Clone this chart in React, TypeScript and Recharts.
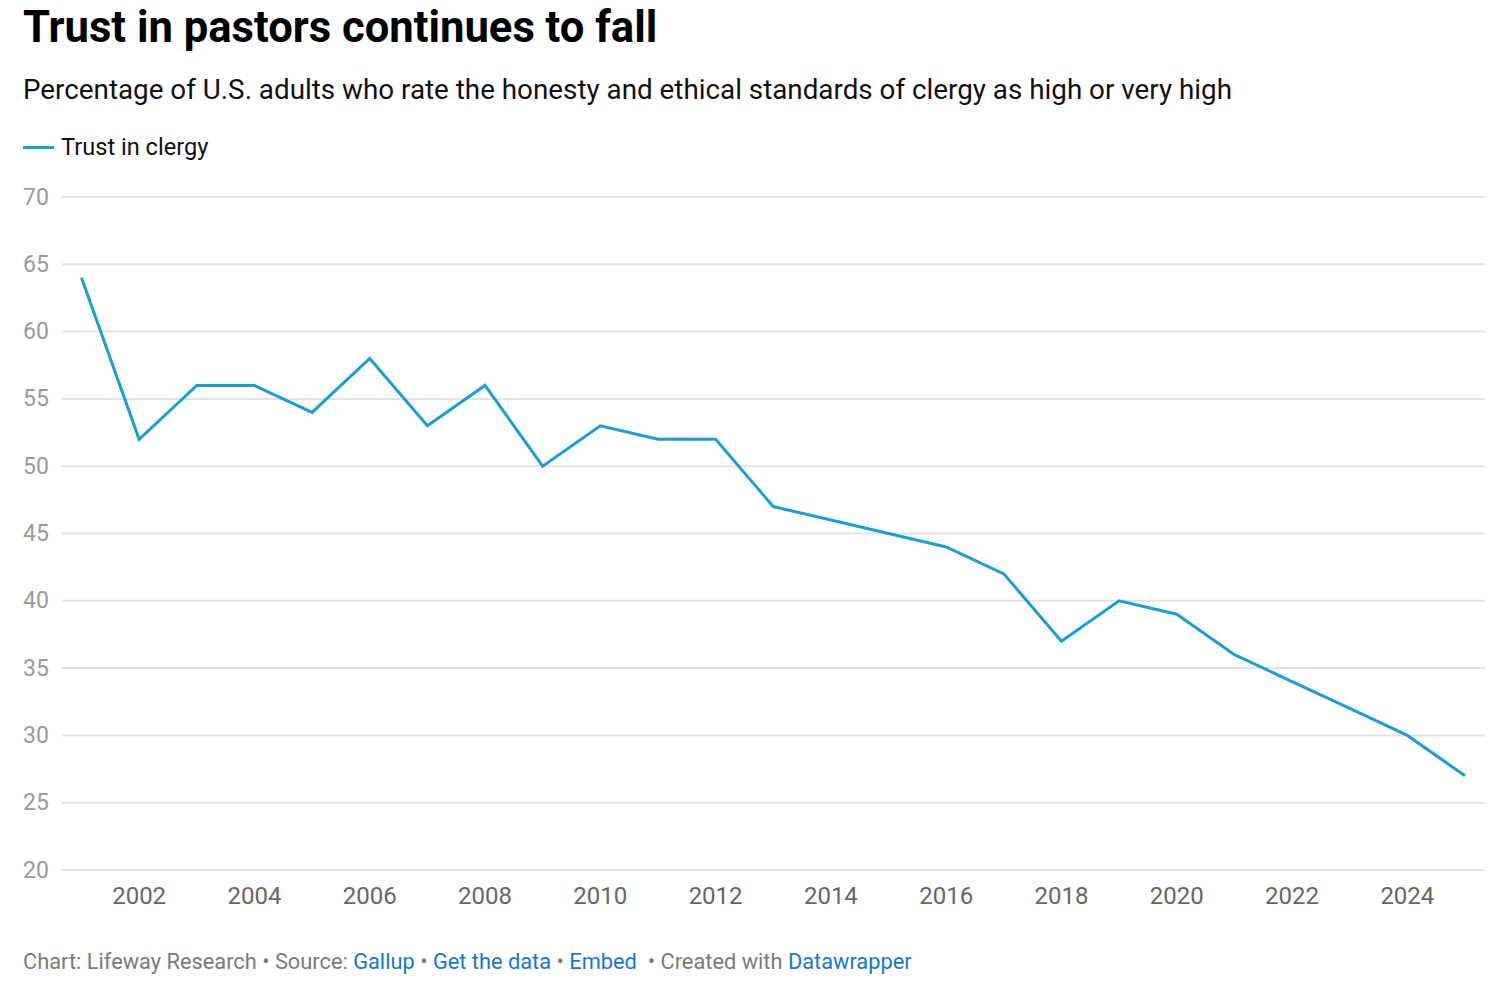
import React from 'react'
import { LineChart, Line, XAxis, YAxis, CartesianGrid } from 'recharts'

// Gallup honesty/ethics ratings for clergy
const years = [
  2001, 2002, 2003, 2004, 2005, 2006, 2007, 2008, 2009, 2010, 2011, 2012, 2013,
  2014, 2015, 2016, 2017, 2018, 2019, 2020, 2021, 2022, 2023, 2024, 2025,
]
const trust = [
  64, 52, 56, 56, 54, 58, 53, 56, 50, 53, 52, 52, 47, 46, 45, 44, 42, 37, 40,
  39, 36, 34, 32, 30, 27,
]
const yTicks = [20, 25, 30, 35, 40, 45, 50, 55, 60, 65, 70]
const xTicks = [2002, 2004, 2006, 2008, 2010, 2012, 2014, 2016, 2018, 2020, 2022, 2024]

const data = years.map((year, i) => ({ year, trust: trust[i] }))

const FONT = 'Roboto, "Noto Sans", sans-serif'
const LINE = '#1a9fd0'
const LINK = '#1779c4'

const YTick = (props: any) => (
  <text
    x={23}
    y={props.y}
    textAnchor='start'
    dominantBaseline='central'
    fill='#9a9a9a'
    fontSize={23}
    fontFamily={FONT}>
    {props.payload.value}
  </text>
)

const XTick = (props: any) => (
  <text
    x={props.x}
    y={props.y + 18}
    textAnchor='middle'
    dominantBaseline='central'
    fill='#666'
    fontSize={24}
    fontFamily={FONT}>
    {props.payload.value}
  </text>
)

export default function App() {
  return (
    <div
      style={{
        position: 'absolute',
        left: 0,
        top: 0,
        width: 1500,
        height: 991,
        background: '#fff',
        fontFamily: FONT,
      }}>
      <div
        style={{
          position: 'absolute',
          left: 23,
          top: 2,
          fontSize: 43.6,
          fontWeight: 700,
          color: '#000',
          whiteSpace: 'nowrap',
        }}>
        Trust in pastors continues to fall
      </div>
      <div
        style={{
          position: 'absolute',
          left: 23,
          top: 73,
          fontSize: 27.8,
          color: '#111',
          whiteSpace: 'nowrap',
        }}>
        Percentage of U.S. adults who rate the honesty and ethical standards of clergy as high or very high
      </div>
      <div
        style={{
          position: 'absolute',
          left: 23,
          top: 133,
          display: 'flex',
          alignItems: 'center',
          fontSize: 23.6,
          color: '#111',
        }}>
        <span
          style={{
            display: 'inline-block',
            width: 31,
            height: 3,
            background: LINE,
            marginRight: 7,
          }}
        />
        Trust in clergy
      </div>

      <div style={{ position: 'absolute', left: 0, top: 170 }}>
        <LineChart
          width={1500}
          height={760}
          data={data}
          margin={{ top: 27, right: 15, bottom: 20, left: 0 }}>
          <CartesianGrid vertical={false} stroke='#e3e3e3' strokeWidth={2} />
          <XAxis
            dataKey='year'
            type='number'
            domain={[2001, 2025]}
            ticks={xTicks}
            tick={<XTick />}
            tickLine={false}
            axisLine={false}
            padding={{ left: 19.5, right: 20 }}
            height={40}
          />
          <YAxis
            domain={[20, 70]}
            ticks={yTicks}
            tick={<YTick />}
            tickLine={false}
            axisLine={false}
            width={62}
          />
          <Line
            type='linear'
            dataKey='trust'
            stroke={LINE}
            strokeWidth={3}
            dot={false}
            isAnimationActive={false}
          />
        </LineChart>
      </div>

      <div
        style={{
          position: 'absolute',
          left: 23,
          top: 949,
          fontSize: 21.8,
          color: '#7a7a7a',
          whiteSpace: 'nowrap',
        }}>
        Chart: Lifeway Research • Source: <span style={{ color: LINK }}>Gallup</span> •{' '}
        <span style={{ color: LINK }}>Get the data</span> •{' '}
        <span style={{ color: LINK }}>Embed</span>
        {'\u00a0 '}• Created with <span style={{ color: LINK }}>Datawrapper</span>
      </div>
    </div>
  )
}
